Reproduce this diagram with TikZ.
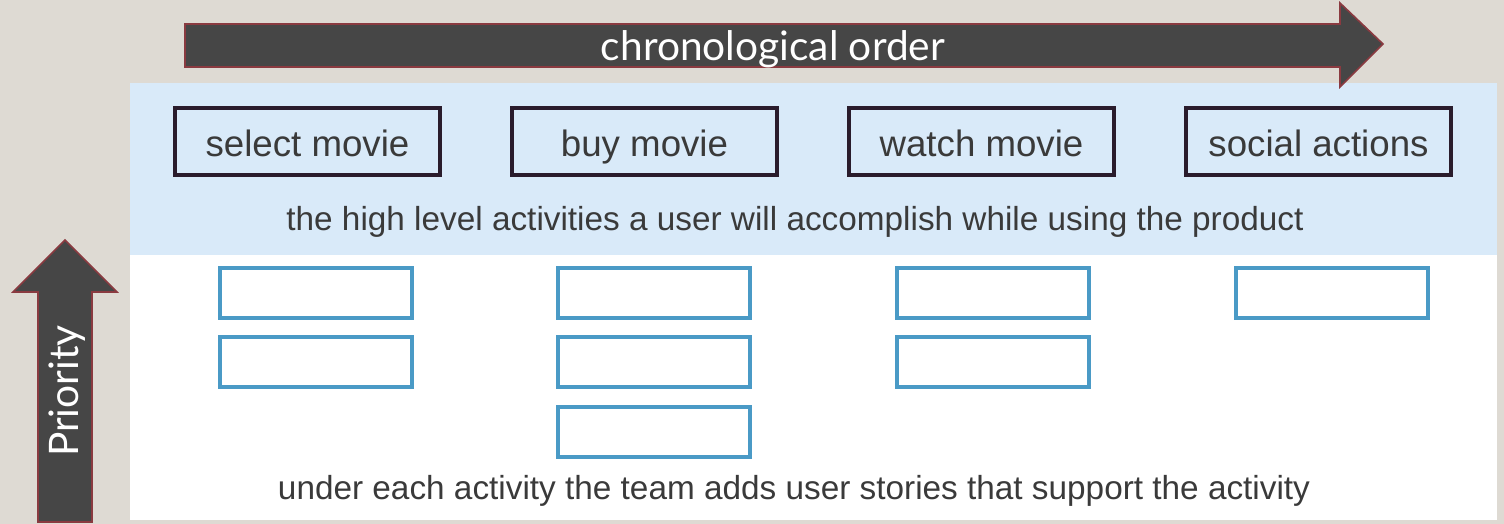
\documentclass[tikz,border=0pt]{standalone}
\usepackage{fontspec}
\setmainfont{Liberation Sans}
\newfontfamily\gillfont{Lato}
\definecolor{bgbeige}{HTML}{DEDAD3}
\definecolor{panelblue}{HTML}{D9EAF9}
\definecolor{arrowgray}{HTML}{464646}
\definecolor{arrowedge}{HTML}{8A3A40}
\definecolor{actedge}{HTML}{2A1C2C}
\definecolor{storyblue}{HTML}{4A9AC6}
\definecolor{txtgray}{HTML}{3A3A3A}
\tikzset{
  actbox/.style={draw=actedge, line width=3pt, fill=none, minimum width=198.75pt, minimum height=50.25pt, inner sep=0pt, text=txtgray, text height=25pt, text depth=2pt, font=\fontsize{27.5}{30}\selectfont},
  storybox/.style={draw=storyblue, line width=3pt, fill=white, minimum width=144pt, minimum height=37.5pt, inner sep=0pt},
  bigarrow/.style={fill=arrowgray, draw=arrowedge, line width=1.2pt},
  caption/.style={text=txtgray, font=\fontsize{25}{28}\selectfont, inner sep=0pt},
  arrowtext/.style={text=white, font=\gillfont\fontsize{30.5}{34}\selectfont, inner sep=0pt}
}
\begin{document}
\begin{tikzpicture}[x=0.75pt, y=-0.75pt]
\useasboundingbox (0,0) rectangle (1504,524);
\fill[bgbeige] (0,0) rectangle (1504,524);
% panels
\fill[panelblue] (130,83) rectangle (1497,255);
\fill[white] (130,255) rectangle (1497,520);
% top arrow
\draw[bigarrow] (185,24) -- (1340,24) -- (1340,3) -- (1383,44) -- (1340,87) -- (1340,67) -- (185,67) -- cycle;
\node[arrowtext] (chrono) at (773,49) {chronological order};
% priority arrow
\draw[bigarrow] (38,522) -- (38,292) -- (13,292) -- (65,240) -- (117,292) -- (92,292) -- (92,522) -- cycle;
\node[arrowtext, rotate=90] (prio) at (67,391) {Priority};
% activities
\node[actbox] (a1) at (307.5,141.5) {select movie};
\node[actbox] (a2) at (644.5,141.5) {buy movie};
\node[actbox] (a3) at (981.5,141.5) {watch movie};
\node[actbox] (a4) at (1318.5,141.5) {social actions};
\node[caption] (cap1) at (795,222) {the high level activities a user will accomplish while using the product};
% stories
\node[storybox] (s11) at (316,293) {};
\node[storybox] (s12) at (316,362) {};
\node[storybox] (s21) at (653.5,293) {};
\node[storybox] (s22) at (653.5,362) {};
\node[storybox] (s23) at (653.5,432) {};
\node[storybox] (s31) at (993,293) {};
\node[storybox] (s32) at (993,362) {};
\node[storybox] (s41) at (1332,293) {};
\node[caption] (cap2) at (794,491) {under each activity the team adds user stories that support the activity};
\end{tikzpicture}
\end{document}
